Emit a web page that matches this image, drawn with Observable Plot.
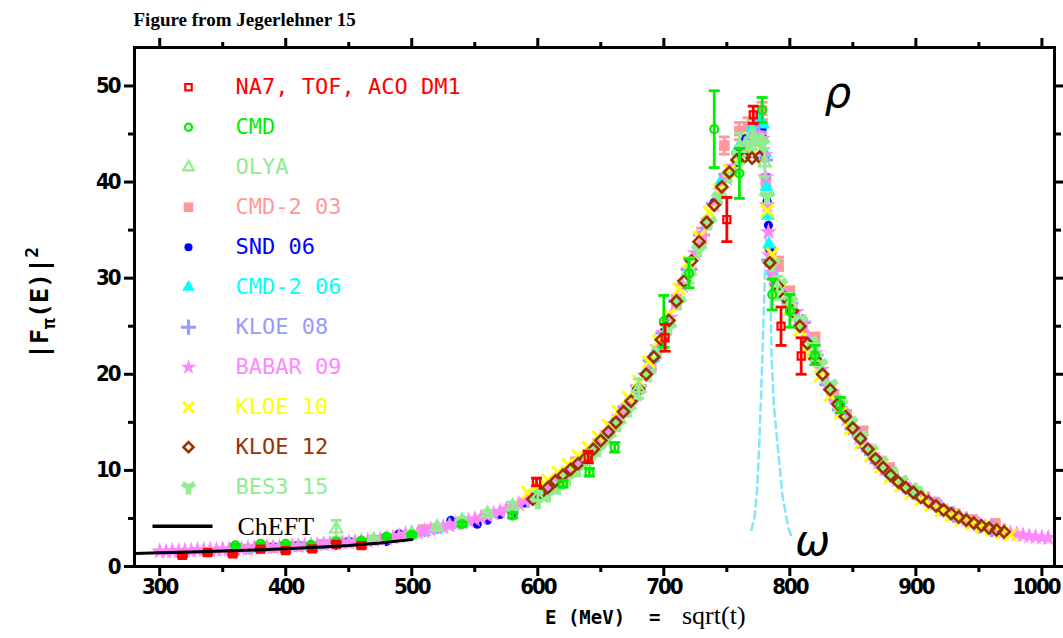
<!DOCTYPE html>
<html><head><meta charset="utf-8">
<script src="https://cdn.jsdelivr.net/npm/d3@7"></script>
<script src="https://cdn.jsdelivr.net/npm/@observablehq/plot@0.6"></script>
<style>
html,body{margin:0;padding:0;background:#fff;}
#chart{position:relative;width:1063px;height:638px;}
</style></head><body><div id="chart"></div>
<script>
// ---------------- DATA (E in MeV, |F|^2, error) ----------------
const na7 = [[318,1.15,0.15],[338,1.45,0.15],[358,1.32,0.15],[380,1.80,0.15],[400,1.66,0.15],[421,1.84,0.2],[440,2.30,0.2],[460,2.18,0.2],[599,8.8,0.4],[640,11.4,0.6],[701,23.8,1.4],[750,36.1,2.3],[771,47.0,0.9],[793,25.0,2.0],[809,21.9,1.9]];
const cmd = [[360,2.20,0.1],[380,2.36,0.1],[400,2.36,0.1],[420,2.25,0.12],[440,2.60,0.12],[460,2.70,0.12],[480,3.10,0.15],[500,3.30,0.15],[540,4.40,0.2],[580,5.30,0.25],[620,8.6,0.35],[641,9.8,0.4],[661,12.4,0.5],[700,25.5,2.7],[720,30.5,1.5],[740,45.5,4.0],[760,40.9,2.6],[778,47.5,1.3],[786,28.3,1.6],[800,26.6,1.7],[820,22.0,1.0],[840,16.8,0.8]];
const olya = [[440,3.9,0.9],[470,2.75,0.3],[500,3.40,0.3],[520,4.10,0.3],[540,4.80,0.3],[560,5.50,0.3],[580,6.30,0.4],[600,7.30,0.5],[640,11.4,0.7],[680,18.5,1.0],[720,30.8,1.3],[760,43.5,1.6],[770,45.0,1.6],[780,42.0,1.5],[790,29.0,1.2],[800,27.3,1.1],[820,22.3,0.9]];
const cmd203 = [[370,1.80,0.08],[390,1.95,0.08],[410,2.10,0.08],[430,2.30,0.09],[450,2.50,0.1],[470,2.75,0.1],[490,3.20,0.12],[510,3.85,0.14],[610,8.4,0.3],[630,10.9,0.35],[650,13.0,0.4],[670,16.4,0.45],[690,21.0,0.55],[710,27.5,0.7],[730,34.4,0.8],[748,43.8,0.9],[760,45.3,0.9],[767,45.8,0.9],[775,46.3,0.9],[778,47.4,0.9],[781,40.0,0.8],[785,32.5,0.7],[791,31.5,0.7],[800,28.5,0.6],[810,25.0,0.6],[820,23.7,0.6],[835,17.8,0.5],[845,15.8,0.45],[858,14.1,0.4],[870,11.0,0.35],[879,10.3,0.3],[900,7.8,0.25],[915,6.7,0.22],[931,5.5,0.2],[945,4.9,0.18],[963,4.5,0.17]];
const snd06 = [[390,2.05],[400,1.85],[410,2.20],[420,2.05],[430,2.30],[440,2.20],[450,2.60],[460,2.35],[470,2.80],[480,2.60],[490,3.40],[500,3.20],[510,3.60],[520,3.90],[531,4.80],[540,4.50],[552,4.40],[560,4.80],[570,5.40],[581,5.60],[590,6.6],[600,7.4],[620,9.4],[640,11.4],[660,14.6],[680,18.5],[700,24.4],[720,30.7],[740,37.9],[750,40.8],[760,43.5],[765,44.5],[770,45.5],[775,46.3],[778,45.5],[779,44.5],[780,42.5],[781,40.5],[782,38.0],[783,35.5],[784,33.0],[786,30.5],[790,29.3],[800,27.3],[820,21.9],[840,16.2],[860,12.3],[880,9.5],[900,7.6],[920,6.0],[940,4.8],[960,3.9],[970,3.55]];
const cmd206 = [[370,1.85],[380,1.90],[390,1.95],[400,2.00],[410,2.10],[420,2.15],[430,2.30],[440,2.35],[450,2.50],[460,2.55],[470,2.75],[480,2.90],[500,3.50],[510,3.60],[520,3.90],[530,4.30],[540,4.60],[600,7.6],[630,10.7],[660,15.0],[690,21.6],[720,31.2],[745,40.0],[760,43.8],[770,45.6],[776,46.5],[779,46.0],[780.5,43.0],[781.5,39.5],[782.5,36.5],[783.5,33.5],[786,30.8],[790,29.6],[800,27.6],[820,22.1],[850,14.3],[880,9.6],[910,6.9],[940,4.9],[960,3.95]];
const kloe08 = [[592,7.0],[600,7.6],[610,8.5],[620,9.6],[630,10.5],[640,11.7],[650,13.1],[660,14.9],[670,16.6],[680,18.8],[690,21.4],[700,24.3],[710,27.6],[720,30.9],[730,34.5],[740,37.8],[750,40.8],[760,43.1],[770,44.6],[775,45.2],[780,42.3],[784,31.9],[790,29.4],[800,27.4],[810,25.4],[820,22.0],[830,18.9],[840,16.3],[850,14.3],[860,12.4],[870,10.8],[880,9.6],[890,8.5],[900,7.7],[910,6.9],[920,6.1],[930,5.4],[940,4.85],[950,4.3],[960,3.95],[970,3.6]];
const babar09 = [[300,1.58],[305,1.55],[310,1.62],[315,1.60],[320,1.66],[325,1.64],[330,1.70],[335,1.72],[340,1.74],[345,1.73],[350,1.80],[355,1.79],[360,1.85],[365,1.86],[370,1.90],[375,1.92],[380,1.95],[385,1.99],[390,2.02],[395,2.04],[400,2.08],[405,2.12],[410,2.15],[415,2.20],[420,2.24],[425,2.28],[430,2.33],[435,2.36],[440,2.42],[445,2.46],[450,2.52],[455,2.57],[460,2.63],[465,2.68],[470,2.75],[475,2.82],[480,2.90],[485,3.00],[490,3.18],[495,3.35],[500,3.45],[505,3.55],[510,3.70],[515,3.85],[520,4.00],[525,4.12],[530,4.28],[535,4.42],[540,4.58],[545,4.75],[550,4.92],[555,5.10],[560,5.28],[565,5.50],[570,5.72],[575,5.95],[580,6.20],[585,6.50],[590,6.85],[595,7.15],[600,7.55],[605,8.0],[610,8.5],[615,9.0],[620,9.5],[625,10.0],[630,10.5],[635,11.0],[640,11.6],[645,12.3],[650,13.1],[655,13.9],[660,14.8],[665,15.6],[670,16.5],[675,17.5],[680,18.6],[685,19.9],[690,21.3],[695,22.8],[700,24.3],[705,25.9],[710,27.5],[715,29.2],[720,30.9],[725,32.6],[730,34.3],[735,36.0],[740,37.6],[745,39.1],[750,40.4],[755,41.6],[760,42.6],[765,43.5],[770,44.2],[773,44.6],[776,44.8],[778,44.5],[780,42.8],[781,40.5],[782,37.6],[783,34.8],[784,32.4],[786,30.6],[788,30.0],[790,29.5],[795,28.6],[800,27.6],[805,26.5],[810,25.3],[815,23.8],[820,22.2],[825,20.5],[830,19.0],[835,17.6],[840,16.4],[845,15.3],[850,14.3],[855,13.4],[860,12.5],[865,11.6],[870,10.8],[875,10.1],[880,9.5],[885,9.0],[890,8.5],[895,8.1],[900,7.7],[905,7.3],[910,6.9],[915,6.5],[920,6.1],[925,5.75],[930,5.45],[935,5.15],[940,4.87],[945,4.6],[950,4.36],[955,4.15],[960,3.95],[965,3.78],[970,3.62],[975,3.48],[980,3.36],[985,3.25],[990,3.16],[995,3.08],[1000,3.02],[1005,2.97]];
const kloe10 = [[592,7.7],[600,8.3],[608,9.0],[616,9.8],[624,10.6],[632,11.5],[640,12.4],[648,13.5],[656,14.7],[664,16.1],[672,17.6],[680,19.3],[688,21.3],[696,23.5],[704,26.2],[712,28.9],[720,31.7],[728,34.3],[736,36.9],[744,39.2],[752,41.2],[760,42.7],[768,43.6],[776,43.8],[782,37.0],[786,32.5],[792,28.8],[800,26.8],[808,24.6],[816,22.1],[824,19.8],[832,17.8],[840,15.9],[848,14.3],[856,12.8],[864,11.5],[872,10.3],[880,9.3],[888,8.4],[896,7.6],[904,6.95],[912,6.35],[920,5.8],[928,5.3],[936,4.85],[944,4.45],[952,4.1],[960,3.8],[968,3.5],[975,3.3]];
const kloe12 = [[596,7.0],[602,7.6],[608,8.2],[614,8.9],[620,9.5],[626,10.1],[632,10.7],[638,11.3],[644,12.2],[650,13.1],[656,14.0],[662,15.0],[668,16.1],[674,17.2],[680,18.5],[686,20.0],[692,21.8],[698,23.6],[704,25.6],[710,27.6],[716,29.7],[722,31.8],[728,33.8],[734,35.8],[740,37.6],[746,39.5],[752,41.0],[758,42.3],[764,42.6],[770,42.5],[776,42.6],[784,31.6],[790,29.2],[796,28.0],[802,26.6],[808,25.0],[814,23.2],[820,21.6],[826,20.0],[832,18.4],[838,16.9],[844,15.6],[850,14.4],[856,13.3],[862,12.2],[868,11.2],[874,10.3],[880,9.5],[886,8.8],[892,8.2],[898,7.7],[904,7.2],[910,6.75],[916,6.3],[922,5.9],[928,5.5],[934,5.15],[940,4.82],[946,4.52],[952,4.25],[958,4.0],[964,3.8],[970,3.6]];
const bes3 = [[600,6.8],[608,7.5],[616,8.3],[624,9.2],[632,10.1],[640,11.1],[648,12.2],[656,13.4],[664,14.8],[672,16.3],[680,18.0],[688,20.0],[696,22.3],[704,24.8],[712,27.5],[720,30.2],[728,33.0],[736,35.8],[744,38.4],[752,40.7],[760,42.6],[768,43.9],[774,44.5],[778,44.0],[782,38.5],[786,31.5],[792,29.4],[800,27.6],[808,25.6],[816,23.4],[824,21.0],[832,18.9],[840,16.9],[848,15.0],[856,13.5],[864,12.1],[872,10.9],[880,9.8],[888,8.9],[896,8.1],[900,7.75]];
const cheft = [[280,1.35],[300,1.42],[325,1.50],[350,1.60],[375,1.72],[400,1.85],[425,2.00],[450,2.18],[475,2.45],[500,2.80]];
const omega = [[769.5,3.8],[772,5.1],[774,8.0],[775.5,12.0],[777.5,19.0],[780,29.4],[782.5,40.0],[784,33.0],[785.5,21.8],[787.5,16.5],[790.8,12.0],[794,7.5],[798.7,4.1],[801,3.2]];
const greek = [{label:"ρ", E:838, y:49.2}, {label:"ω", E:818, y:2.6}];
const xMajor = [300,400,500,600,700,800,900,1000];
const xMinor = [350,450,550,650,750,850,950];
const yMajor = [0,10,20,30,40,50];
const yMinor = [5,15,25,35,45];
const title = "Figure from Jegerlehner 15";

// ---------------- STYLE ----------------
const seriesDefs = [
  {name:"NA7, TOF, ACO DM1", data:na7, color:"#ff0000", symbol:"square", filled:false, r:4, sw:2.2, err:true},
  {name:"CMD", data:cmd, color:"#00ee00", symbol:"circle", filled:false, r:4, sw:2.2, err:true},
  {name:"OLYA", data:olya, color:"#90ee90", symbol:"triangle", filled:false, r:4.5, sw:2.2, err:true},
  {name:"CMD-2 03", data:cmd203, color:"#ff9999", symbol:"square", filled:true, r:6, sw:0, err:true},
  {name:"SND 06", data:snd06, color:"#0000ff", symbol:"circle", filled:true, r:4.5, sw:0},
  {name:"CMD-2 06", data:cmd206, color:"#00ffff", symbol:"triangle", filled:true, r:5.2, sw:0},
  {name:"KLOE 08", data:kloe08, color:"#9999ff", symbol:"plus", filled:false, r:5.5, sw:3},
  {name:"BABAR 09", data:babar09, color:"#ff88ff", symbol:"star", filled:true, r:5.5, sw:0},
  {name:"KLOE 10", data:kloe10, color:"#ffff00", symbol:"times", filled:false, r:5.5, sw:3},
  {name:"KLOE 12", data:kloe12, color:"#993300", symbol:"diamond2", filled:false, r:5, sw:2.6},
  {name:"BES3 15", data:bes3, color:"#90ee90", symbol:"wye", filled:true, r:6.5, sw:0}
];
const drawOrder = ["CMD-2 03","SND 06","CMD-2 06","KLOE 08","BABAR 09","KLOE 10","BES3 15","KLOE 12","OLYA","CMD","NA7, TOF, ACO DM1"];

const cap = {draw(ctx, size){ const r = Math.sqrt(size/Math.PI); ctx.moveTo(-r,0); ctx.lineTo(r,0); }};
const tickFont = "'DejaVu Sans Condensed','DejaVu Sans',sans-serif";
const monoFont = "'DejaVu Sans Mono',monospace";
const serifFont = "'Liberation Serif','Times New Roman',serif";
const M = {left:134, right:9, top:47, bottom:72};

function seriesMarks(s){
  const rows = s.data.map(([E,y,err]) => ({E, y, err}));
  const marks = [];
  if (s.err) {
    marks.push(Plot.ruleX(rows, {x:"E", y1:d=>d.y-d.err, y2:d=>d.y+d.err, stroke:s.color, strokeWidth:2.8}));
    marks.push(Plot.dot(rows, {x:"E", y:d=>d.y-d.err, symbol:cap, r:5.5, stroke:s.color, strokeWidth:2.8}));
    marks.push(Plot.dot(rows, {x:"E", y:d=>d.y+d.err, symbol:cap, r:5.5, stroke:s.color, strokeWidth:2.8}));
  }
  marks.push(Plot.dot(rows, {x:"E", y:"y", symbol:s.symbol, r:s.r,
    fill: s.filled ? s.color : "none", stroke: s.filled ? "none" : s.color, strokeWidth: s.sw}));
  return marks;
}
function legendMarks(s, i){
  const dy = 39.7 + i*40;
  return [
    Plot.dot([s.name], {x:null, y:null, frameAnchor:"top-left", dx:188-M.left, dy, symbol:s.symbol, r:s.r*0.9,
      fill: s.filled ? s.color : "none", stroke: s.filled ? "none" : s.color, strokeWidth: s.sw}),
    Plot.text([s.name], {x:null, y:null, frameAnchor:"top-left", dx:235-M.left, dy, text:d=>d, textAnchor:"start",
      lineAnchor:"middle", fill:s.color, fontFamily:monoFont, fontSize:22})
  ];
}
const byName = Object.fromEntries(seriesDefs.map(s => [s.name, s]));

const axisText = {fontFamily:tickFont, fontWeight:"bold", fontSize:22, fill:"black"};
const plot = Plot.plot({
  width:1063, height:638,
  marginLeft:M.left, marginRight:M.right, marginTop:M.top, marginBottom:M.bottom,
  x:{domain:[280,1010], label:null},
  y:{domain:[0,54], label:null},
  style:{background:"white", overflow:"visible"},
  marks:[
    Plot.line(omega, {x:d=>d[0], y:d=>d[1], stroke:"#88e6fb", strokeWidth:2.6, strokeDasharray:"7,5"}),
    ...drawOrder.flatMap(n => seriesMarks(byName[n])),
    Plot.line(cheft, {x:d=>d[0], y:d=>d[1], stroke:"black", strokeWidth:3}),
    Plot.text(greek, {x:"E", y:"y", text:"label", fontSize:42, fontFamily:"'DejaVu Sans',sans-serif", fontStyle:"italic", fill:"black"}),
    ...seriesDefs.flatMap((s,i) => legendMarks(s,i)),
    Plot.dot(["ChEFT"], {x:null, y:null, frameAnchor:"top-left", dx:182-M.left, dy:525.7-M.top, symbol:cap, r:30, stroke:"black", strokeWidth:3.5}),
    Plot.text(["ChEFT"], {x:null, y:null, frameAnchor:"top-left", dx:237-M.left, dy:525.7-M.top, text:d=>d, textAnchor:"start", lineAnchor:"middle", fontFamily:serifFont, fontSize:26, fill:"black"}),
    Plot.text([title], {x:null, y:null, frameAnchor:"top-left", dx:-1, dy:-22, text:d=>d, textAnchor:"start", lineAnchor:"bottom", fontFamily:serifFont, fontWeight:"bold", fontSize:19, fill:"black"}),
    Plot.axisX(xMajor, {anchor:"bottom", tickSize:10, tickPadding:2, strokeWidth:3, tickFormat:d=>String(d), label:null, ...axisText}),
    Plot.axisX(xMinor, {anchor:"bottom", tickSize:6, strokeWidth:3, tickFormat:()=>"", label:null}),
    Plot.axisX(xMajor, {anchor:"top", tickSize:10, strokeWidth:3, tickFormat:()=>"", label:null}),
    Plot.axisX(xMinor, {anchor:"top", tickSize:6, strokeWidth:3, tickFormat:()=>"", label:null}),
    Plot.axisY(yMajor, {anchor:"left", tickSize:10, tickPadding:5, strokeWidth:3, tickFormat:d=>String(d), label:null, ...axisText}),
    Plot.axisY(yMinor, {anchor:"left", tickSize:6, strokeWidth:3, tickFormat:()=>"", label:null}),
    Plot.axisY(yMajor, {anchor:"right", tickSize:10, strokeWidth:3, tickFormat:()=>"", label:null}),
    Plot.axisY(yMinor, {anchor:"right", tickSize:6, strokeWidth:3, tickFormat:()=>"", label:null}),
    Plot.frame({stroke:"black", strokeWidth:3})
  ]
});
document.getElementById("chart").appendChild(plot);

// tick labels: tighter letter spacing (Hershey-like narrow digits); keep the last one inside the page
const tickTexts = d3.select(plot).selectAll("text").filter(function(){ return /^\d+$/.test(this.textContent); })
  .style("letter-spacing", "-2px");
tickTexts.filter(function(){ return this.textContent === String(xMajor[xMajor.length-1]); }).attr("dx", -6);

// axis titles with mixed fonts / sub- and superscripts
const svg = d3.select(plot);
svg.append("text").attr("x",545).attr("y",624).attr("text-anchor","start").attr("fill","black")
  .attr("font-family",monoFont).attr("font-weight","bold").attr("font-size",19).text("E (MeV)");
svg.append("text").attr("x",649).attr("y",624).attr("text-anchor","start").attr("fill","black")
  .attr("font-family",monoFont).attr("font-weight","bold").attr("font-size",19).text("=");
svg.append("text").attr("x",682).attr("y",624).attr("text-anchor","start").attr("fill","black")
  .attr("font-family",serifFont).attr("font-size",26).text("sqrt(t)");
const yl = svg.append("text").attr("transform","translate(48,303) rotate(-90)").attr("text-anchor","middle")
  .attr("font-family",monoFont).attr("font-weight","bold").attr("font-size",25).attr("fill","black");
yl.append("tspan").text("|F");
yl.append("tspan").attr("font-size",18).attr("dy",7).text("π");
yl.append("tspan").attr("dy",-7).text("(E)|");
yl.append("tspan").attr("font-size",18).attr("dy",-10).text("2");
</script></body></html>
